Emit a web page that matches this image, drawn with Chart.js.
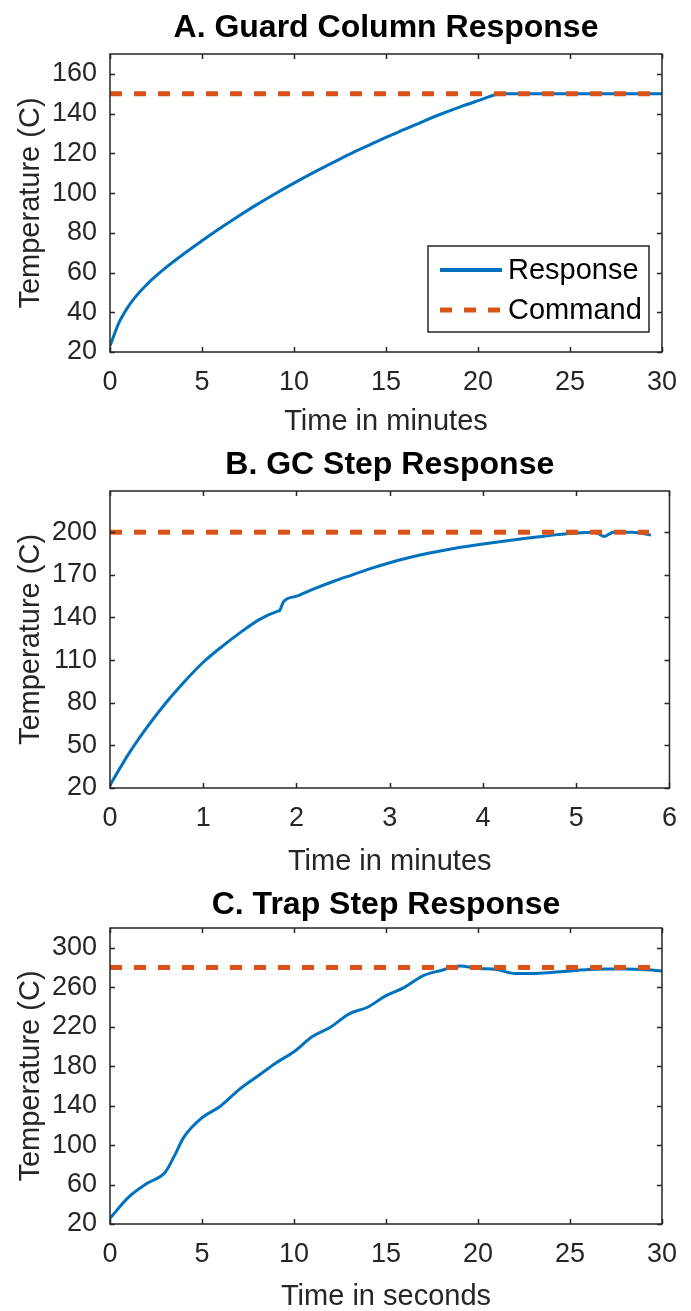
<!DOCTYPE html>
<html>
<head>
<meta charset="utf-8">
<script src="https://cdn.jsdelivr.net/npm/chart.js@4.4.0/dist/chart.umd.min.js"></script>
<style>
    html, body { margin: 0; padding: 0; background: #fff; }
    .panel { position: absolute; left: 0; width: 691px; }
</style>
</head>
<body>
<div class="panel" style="top:0;height:440px"><canvas id="chartA"></canvas></div>
<div class="panel" style="top:440px;height:440px"><canvas id="chartB"></canvas></div>
<div class="panel" style="top:880px;height:431px"><canvas id="chartC"></canvas></div>
<script>
// A. Guard column (minutes)
const guardTime = [0, 0.5, 1, 1.5, 2, 2.5, 3, 4, 5, 6, 7, 8, 9, 10, 11, 12, 13, 14, 15, 16, 17, 18, 19, 20, 21, 21.5, 25, 30];
const guardResponse = [23, 35, 43, 49, 54, 58.3, 62.2, 69.3, 76, 82.4, 88.5, 94.3, 99.8, 105, 110, 114.8, 119.5, 123.8, 128, 132, 136, 139.8, 143.3, 146.5, 149.6, 150, 150, 150];
const guardCommandTime = [0, 30];
const guardCommand = [150, 150];
const guardXTicks = [0, 5, 10, 15, 20, 25, 30];
const guardYTicks = [20, 40, 60, 80, 100, 120, 140, 160];

// B. GC step (minutes)
const gcTime = [0, 0.2, 0.4, 0.6, 0.8, 1.0, 1.2, 1.4, 1.6, 1.8, 1.82, 1.86, 2.0, 2.2, 2.4, 2.6, 2.8, 3.0, 3.2, 3.4, 3.6, 3.8, 4.0, 4.2, 4.4, 4.6, 4.8, 5.0, 5.2, 5.3, 5.4, 5.6, 5.8];
const gcResponse = [22, 44, 63, 80, 95, 108.5, 119.5, 129.5, 138.5, 144.5, 145, 151, 155, 160.5, 165.5, 170, 174.5, 178.5, 182, 185, 187.5, 189.7, 191.7, 193.5, 195.2, 196.8, 198.3, 199.5, 200, 197, 200, 200, 198];
const gcCommandTime = [0, 5.78];
const gcCommand = [200, 200];
const gcXTicks = [0, 1, 2, 3, 4, 5, 6];
const gcYTicks = [20, 50, 80, 110, 140, 170, 200];

// C. Trap step (seconds)
const trapTime = [0, 1, 2, 3, 3.5, 4, 5, 6, 7, 8, 9, 10, 11, 12, 13, 14, 15, 16, 17, 18, 19, 20, 21, 22, 23, 24, 25, 26, 27, 28, 29, 30];
const trapResponse = [25.7, 47, 61, 72.5, 89, 107.6, 127.7, 139.4, 156, 169.5, 183, 194.6, 210, 219.7, 233, 239.7, 251.4, 259.8, 271.5, 277, 281.5, 279, 278, 274, 274, 275, 276.5, 278, 278.5, 278.5, 278, 276.5];
const trapCommandTime = [0, 30];
const trapCommand = [280, 280];
const trapXTicks = [0, 5, 10, 15, 20, 25, 30];
const trapYTicks = [20, 60, 100, 140, 180, 220, 260, 300];

const blue = '#0072BD';
const orange = '#D95319';
const ink = '#262626';

function toPoints(xs, ys) {
    return xs.map((x, i) => ({ x: x, y: ys[i] }));
}

// box, inward ticks on all sides, and the in-axes legend
const matlabAxes = {
    id: 'matlabAxes',
    afterDraw(chart, args, opts) {
        const ctx = chart.ctx;
        const a = chart.chartArea;
        const xs = chart.scales.x;
        const ys = chart.scales.y;
        ctx.save();
        ctx.strokeStyle = ink;
        ctx.lineWidth = 1.5;
        ctx.strokeRect(a.left, a.top, a.right - a.left, a.bottom - a.top);
        ctx.beginPath();
        xs.ticks.forEach(t => {
            const px = Math.round(xs.getPixelForValue(t.value)) + 0.5;
            ctx.moveTo(px, a.bottom); ctx.lineTo(px, a.bottom - 5);
            ctx.moveTo(px, a.top); ctx.lineTo(px, a.top + 5);
        });
        ys.ticks.forEach(t => {
            const py = Math.round(ys.getPixelForValue(t.value)) + 0.5;
            ctx.moveTo(a.left, py); ctx.lineTo(a.left + 5, py);
            ctx.moveTo(a.right, py); ctx.lineTo(a.right - 5, py);
        });
        ctx.stroke();

        if (opts.legend) {
            const L = opts.legend;
            ctx.fillStyle = '#fff';
            ctx.fillRect(L.left, L.top, L.width, L.height);
            ctx.strokeStyle = ink;
            ctx.lineWidth = 1.5;
            ctx.strokeRect(L.left, L.top, L.width, L.height);
            ctx.font = '29px "Liberation Sans", Arial, sans-serif';
            ctx.textBaseline = 'middle';
            ctx.textAlign = 'left';
            chart.data.datasets.forEach((ds, i) => {
                const yy = L.top + L.rowTop + i * L.rowGap;
                ctx.save();
                ctx.strokeStyle = ds.borderColor;
                ctx.lineWidth = ds.borderDash ? ds.borderWidth : 4;
                ctx.setLineDash(ds.borderDash || []);
                ctx.beginPath();
                ctx.moveTo(L.left + 12, yy);
                ctx.lineTo(L.left + 74, yy);
                ctx.stroke();
                ctx.restore();
                ctx.fillStyle = '#000';
                ctx.fillText(ds.label, L.left + 80, yy + 1);
            });
        }
        ctx.restore();
    }
};

function makeChart(id, cfg) {
    const tickFont = { family: '"Liberation Sans", Arial, sans-serif', size: 27 };
    const labelFont = { family: '"Liberation Sans", Arial, sans-serif', size: 29, lineHeight: 1 };
    return new Chart(document.getElementById(id), {
        type: 'line',
        data: {
            datasets: [{
                label: 'Response',
                data: toPoints(cfg.time, cfg.response),
                borderColor: blue,
                borderWidth: 3,
                pointRadius: 0,
                cubicInterpolationMode: 'monotone',
                order: 1
            }, {
                label: 'Command',
                data: toPoints(cfg.cmdTime, cfg.command),
                borderColor: orange,
                borderWidth: 5,
                borderDash: [12, 12],
                pointRadius: 0,
                order: 0
            }]
        },
        options: {
            responsive: true,
            maintainAspectRatio: false,
            animation: false,
            layout: { padding: { left: 0, right: 21, top: 0, bottom: 0 } },
            plugins: {
                legend: { display: false },
                tooltip: { enabled: false },
                title: {
                    display: true,
                    text: cfg.title,
                    fullSize: false,
                    color: '#000',
                    font: { family: '"Liberation Sans", Arial, sans-serif', size: 32, weight: 'bold', lineHeight: 1.2 },
                    padding: { top: cfg.titleTop, bottom: cfg.titleBottom }
                },
                matlabAxes: { legend: cfg.legend || null }
            },
            scales: {
                x: {
                    type: 'linear',
                    min: cfg.xMin,
                    max: cfg.xMax,
                    grid: { display: false, drawTicks: false },
                    border: { display: false },
                    ticks: { color: ink, font: tickFont, padding: 14, maxRotation: 0 },
                    afterBuildTicks: s => { s.ticks = cfg.xTicks.map(v => ({ value: v })); },
                    afterFit: s => { s.height = cfg.xAxisHeight; },
                    title: {
                        display: true,
                        text: cfg.xLabel,
                        color: ink,
                        font: labelFont,
                        padding: { top: 0, bottom: cfg.xLabelBottom }
                    }
                },
                y: {
                    min: cfg.yMin,
                    max: cfg.yMax,
                    grid: { display: false, drawTicks: false },
                    border: { display: false },
                    ticks: { color: ink, font: tickFont, padding: 13 },
                    afterBuildTicks: s => { s.ticks = cfg.yTicks.map(v => ({ value: v })); },
                    afterFit: s => { s.width = 110; },
                    title: {
                        display: true,
                        text: 'Temperature (C)',
                        color: ink,
                        font: labelFont,
                        padding: { top: 16.5, bottom: 0 }
                    }
                }
            }
        },
        plugins: [matlabAxes]
    });
}

makeChart('chartA', {
    title: 'A. Guard Column Response',
    time: guardTime, response: guardResponse,
    cmdTime: guardCommandTime, command: guardCommand,
    xMin: 0, xMax: 30, yMin: 20, yMax: 170,
    xTicks: guardXTicks, yTicks: guardYTicks,
    xLabel: 'Time in minutes',
    titleTop: 8.8, titleBottom: 6.8,
    xAxisHeight: 88, xLabelBottom: 3.5,
    legend: { left: 428, top: 246, width: 221, height: 86, rowTop: 24, rowGap: 40 }
});

makeChart('chartB', {
    title: 'B. GC Step Response',
    time: gcTime, response: gcResponse,
    cmdTime: gcCommandTime, command: gcCommand,
    xMin: 0, xMax: 6, yMin: 20, yMax: 229,
    xTicks: gcXTicks, yTicks: gcYTicks,
    xLabel: 'Time in minutes',
    titleTop: 5.8, titleBottom: 6.8,
    xAxisHeight: 92, xLabelBottom: 3.5
});

makeChart('chartC', {
    title: 'C. Trap Step Response',
    time: trapTime, response: trapResponse,
    cmdTime: trapCommandTime, command: trapCommand,
    xMin: 0, xMax: 30, yMin: 20, yMax: 320,
    xTicks: trapXTicks, yTicks: trapYTicks,
    xLabel: 'Time in seconds',
    titleTop: 5.8, titleBottom: 3.8,
    xAxisHeight: 87, xLabelBottom: 0
});
</script>
</body>
</html>
